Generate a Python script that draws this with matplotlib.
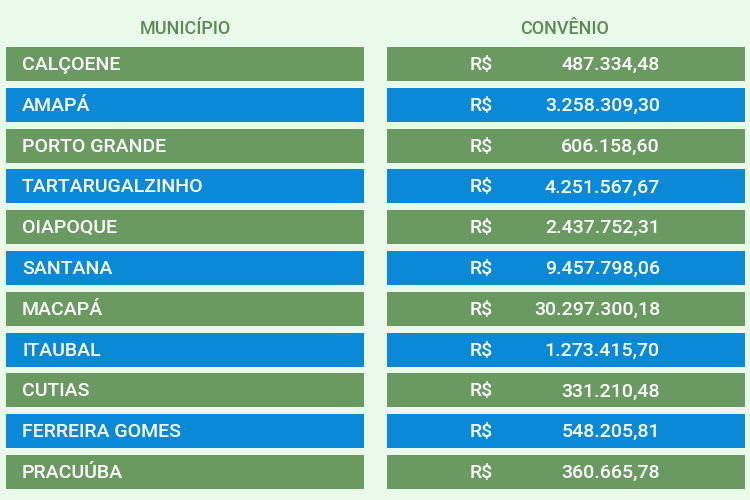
import matplotlib
matplotlib.use("Agg")
import matplotlib.pyplot as plt
from matplotlib.patches import Rectangle

plt.rcParams["font.family"] = ["Roboto", "DejaVu Sans"]

municipios = ["CALÇOENE", "AMAPÁ", "PORTO GRANDE", "TARTARUGALZINHO", "OIAPOQUE",
              "SANTANA", "MACAPÁ", "ITAUBAL", "CUTIAS", "FERREIRA GOMES", "PRACUÚBA"]
convenio = ["487.334,48", "3.258.309,30", "606.158,60", "4.251.567,67", "2.437.752,31",
            "9.457.798,06", "30.297.300,18", "1.273.415,70", "331.210,48",
            "548.205,81", "360.665,78"]

BG = "#eafaea"
GREEN = "#6a9a62"
BLUE = "#0a8ad6"
HEAD = "#5c8a58"

fig = plt.figure(figsize=(7.5, 5), dpi=100)
fig.patch.set_facecolor(BG)
ax = fig.add_axes([0, 0, 1, 1])
ax.set_xlim(0, 750)
ax.set_ylim(500, 0)
ax.axis("off")

ax.text(185, 29, "MUNICÍPIO", ha="center", va="center", fontsize=13,
        color=HEAD, weight="medium")
ax.text(565, 29, "CONVÊNIO", ha="center", va="center", fontsize=13,
        color=HEAD, weight="medium")

top, h, pitch = 47, 34, 40.8
for i, (m, v) in enumerate(zip(municipios, convenio)):
    y = top + i * pitch
    c = GREEN if i % 2 == 0 else BLUE
    ax.add_patch(Rectangle((6, y), 358, h, color=c, lw=0))
    ax.add_patch(Rectangle((387, y), 358, h, color=c, lw=0))
    yc = y + h / 2 + 1
    ax.text(22, yc, m, ha="left", va="center", fontsize=14, color="white", weight="medium")
    ax.text(470, yc, "R$", ha="left", va="center", fontsize=14, color="white", weight="medium")
    ax.text(660, yc, v, ha="right", va="center", fontsize=14, color="white", weight="medium")

fig.savefig("out.png", facecolor=BG)
